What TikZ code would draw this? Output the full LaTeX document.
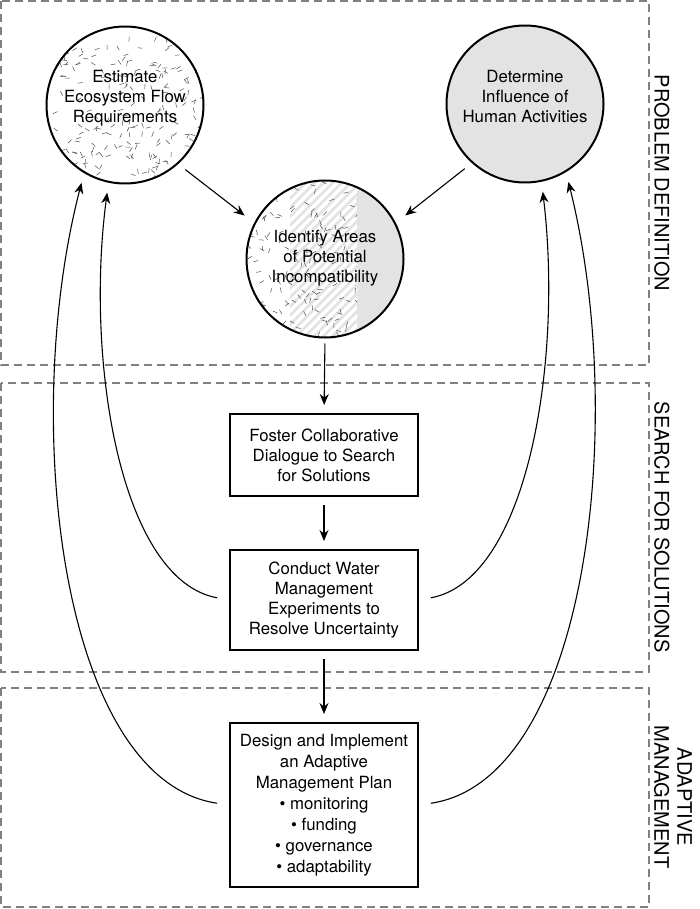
\documentclass[tikz,border=0pt]{standalone}
\usepackage{fontspec}
\setmainfont{TeX Gyre Heros}
\usetikzlibrary{arrows.meta}
\newcommand\mystipple[4]{% cx, cy, half-size, count
  \foreach \k in {1,...,#4}{%
    \pgfmathsetmacro\px{#1+2*#3*rnd-#3}%
    \pgfmathsetmacro\py{#2+2*#3*rnd-#3}%
    \pgfmathsetmacro\ang{180*rnd}%
    \draw[line width=0.5pt, black!70] (\px,\py) -- ++(\ang:5);
  }}
\begin{document}
\begin{tikzpicture}[x=1pt,y=-1pt,
  zone/.style={draw=black!50, dash pattern=on 8pt off 5pt, line width=1.3pt},
  stepbox/.style={draw, line width=2pt, minimum width=188pt, align=center,
    font=\fontsize{16.8}{20}\selectfont, inner sep=0pt},
  bubble/.style={circle, draw, line width=2pt, minimum size=157pt, inner sep=0pt},
  btext/.style={align=center, font=\fontsize{16.8}{20}\selectfont},
  zlabel/.style={rotate=-90, align=center, font=\fontsize{20}{23}\selectfont},
  conn/.style={line width=1.1pt, -{Stealth[length=11pt,width=9pt]}},
]
\useasboundingbox (0,0) rectangle (700,909);
\pgfmathsetseed{4711}

% zones
\draw[zone] (1,1) rectangle (649,365);
\draw[zone] (1,383) rectangle (649,672);
\draw[zone] (1,688) rectangle (649,907);
\node[zlabel] (z1) at (662,183) {PROBLEM DEFINITION};
\node[zlabel] (z2) at (662,527) {SEARCH FOR SOLUTIONS};
\node[zlabel] (z3) at (673,797) {ADAPTIVE\\MANAGEMENT};

% left circle texture
\begin{scope}
  \clip (125,105) circle (78);
  \mystipple{125}{105}{80}{240}
\end{scope}

% middle circle texture
\begin{scope}
  \clip (325,259) circle (78);
  \fill[black!11] (290,175) rectangle (410,345);
  \begin{scope}
    \clip (290,175) rectangle (357,345);
    \foreach \s in {0,9,...,250}
      \draw[white, line width=3.5pt] (130+\s,345) -- ++(170,-170);
  \end{scope}
  \begin{scope}
    \clip (240,175) rectangle (357,345);
    \mystipple{325}{259}{80}{240}
  \end{scope}
\end{scope}

% circles
\node[bubble] (L) at (125,105) {};
\node[btext] (Lt) at (125,98) {Estimate\\Ecosystem Flow\\Requirements};
\node[bubble, fill=black!11] (R) at (525,104) {};
\node[btext] (Rt) at (525,97) {Determine\\Influence of\\Human Activities};
\node[bubble] (M) at (325,259) {};
\node[btext] (Mt) at (325,258) {Identify Areas\\of Potential\\Incompatibility};

% boxes
\node[stepbox, minimum height=82pt] (F) at (324,455)
  {Foster Collaborative\\Dialogue to Search\\for Solutions};
\node[stepbox, minimum height=100pt] (C) at (324,600)
  {Conduct Water\\Management\\Experiments to\\Resolve Uncertainty};
\node[stepbox, minimum height=164pt, font=\fontsize{16.8}{21}\selectfont] (D) at (324,805)
  {Design and Implement\\an Adaptive\\Management Plan\\• monitoring\\• funding\\• governance\\• adaptability};

% straight connectors
\draw[conn, shorten <=9pt, shorten >=12pt] (L.-48) -- (M.153);
\draw[conn, shorten <=9pt, shorten >=12pt] (R.228) -- (M.27);
\draw[conn, shorten <=5pt, shorten >=8pt] (M.south) -- (F.north);
\draw[conn, shorten <=8pt, shorten >=8pt] (F.south) -- (C.north);
\draw[conn, shorten <=8pt, shorten >=8pt] (C.south) -- (D.north);

% feedback curves
\draw[conn, shorten <=12pt, shorten >=10pt] (C.west) .. controls (120,580) and (85,360) .. (L.258);
\draw[conn, shorten <=12pt, shorten >=10pt] (D.west) .. controls (60,780) and (20,420) .. (L.239);
\draw[conn, shorten <=12pt, shorten >=10pt] (C.east) .. controls (528,580) and (563,360) .. (R.282);
\draw[conn, shorten <=12pt, shorten >=10pt] (D.east) .. controls (588,780) and (628,420) .. (R.301);
\end{tikzpicture}
\end{document}
